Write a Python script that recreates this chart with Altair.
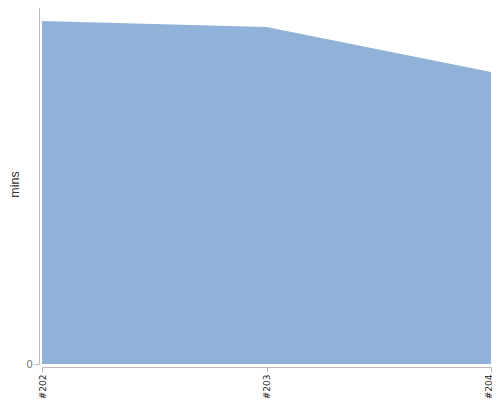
import altair as alt
import pandas as pd

builds = ["#202", "#203", "#204"]
mins = [95.3, 93.6, 81.1]

df = pd.DataFrame({"build": builds, "mins": mins})

chart = alt.Chart(df).mark_area(color="#90b2d9", opacity=1).encode(
    x=alt.X("build:O", sort=builds, title=None,
            scale=alt.Scale(type="point", padding=0),
            axis=alt.Axis(labelAngle=270, labelAlign="right", labelBaseline="middle",
                          labelFontSize=9, labelColor="#222", offset=3,
                          domainColor="#bbbbbb", tickColor="#bbbbbb", tickSize=5,
                          labelPadding=2,
                          labelOffset=alt.ExprRef("datum.value == '#204' ? -3 : 0"),
                          labelFont="DejaVu Sans", grid=False)),
    y=alt.Y("mins:Q", title="mins",
            scale=alt.Scale(domain=[0, 100], nice=False),
            axis=alt.Axis(values=[0], offset=3, grid=False, domainColor="#bbbbbb",
                          tickColor="#bbbbbb", tickSize=5, labelColor="#777",
                          labelPadding=2,
                          labelFontSize=11, labelFont="Liberation Sans",
                          titleFont="Liberation Sans", titleFontSize=12.5,
                          titleFontWeight="normal", titleColor="#333",
                          titlePadding=4)),
).properties(
    width=449, height=360,
    autosize=alt.AutoSizeParams(type="none"),
    padding={"left": 34, "top": -4, "right": 1, "bottom": 40},
).configure_view(stroke=None)

chart.save("out.html", embed_options={"renderer": "svg", "actions": False})
